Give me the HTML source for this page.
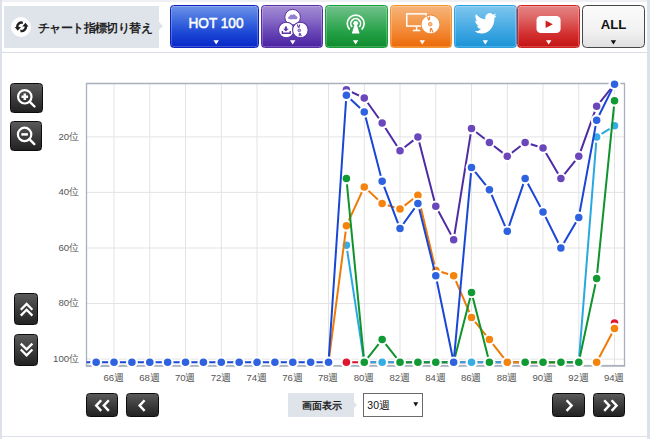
<!DOCTYPE html>
<html><head><meta charset="utf-8">
<style>
*{margin:0;padding:0;box-sizing:border-box}
html,body{width:650px;height:439px;overflow:hidden;background:#fff;font-family:"Liberation Sans",sans-serif}
.abs{position:absolute}
#topstrip{left:0;top:0;width:650px;height:2px;background:#eef0f4}
#lstrip{left:0;top:0;width:2px;height:439px;background:#dde2ea}
#rstrip{left:647px;top:0;width:3px;height:439px;background:#dde2ea}
#bline{left:0;top:436px;width:650px;height:1px;background:#dde2ea}
#hline{left:2px;top:52px;width:645px;height:1px;background:#d9dee6}
#switch{left:4px;top:6px;width:155px;height:42px;background:#dfe3ea}
#switch .arr{position:absolute;left:155px;top:15.7px;width:0;height:0;border-top:4.3px solid transparent;border-bottom:4.3px solid transparent;border-left:4.2px solid #dfe3ea}
#switch .ic{position:absolute;left:6.5px;top:11px;width:20px;height:20px;border-radius:50%;background:#fff}
#switch .tx{position:absolute;left:34px;top:14.6px;font-size:11.5px;font-weight:bold;color:#222;white-space:nowrap;letter-spacing:-0.6px}
.btn{position:absolute;top:5.1px;height:43.2px;border-radius:3.5px;overflow:hidden;box-shadow:inset 0 0 0 1px rgba(255,255,255,0.22)}
#hot{left:169.8px;width:88.9px;background:linear-gradient(#6e92e8,#4470e0 30%,#1d48d6 65%,#0828c8);border:1px solid #1020c0}
#pur{left:260.5px;width:62.8px;background:linear-gradient(#a48cd4,#8a6ec8 30%,#6644b4 65%,#4a22a2);border:1px solid #5530a8}
#grn{left:325px;width:62.8px;background:linear-gradient(#72c28c,#4db26a 30%,#23a046 65%,#0e8c2c);border:1px solid #15a038}
#org{left:389.65px;width:62.35px;background:linear-gradient(#f6b47c,#f4a058 30%,#f28632 65%,#ec6a06);border:1px solid #f2962c}
#tw{left:453.6px;width:63.1px;background:linear-gradient(#7ec6ee,#5fb6e8 30%,#3aa4e0 65%,#1b94d6);border:1px solid #2aa2e2}
#yt{left:517.3px;width:63.2px;background:linear-gradient(#e48484,#de6464 30%,#d43434 65%,#c41212);border:1px solid #d22222}
#all{left:582.2px;width:62.6px;background:linear-gradient(#fbfbfb,#f2f2f2 60%,#e0e0e0);border:1.7px solid #474747;border-radius:4.5px;box-shadow:none}
.dbtn{position:absolute;border-radius:3.5px;border:1px solid #0c0c0c;background:linear-gradient(#5a5a5a,#3c3c3c 50%,#222)}
.xl{position:absolute;top:372px;width:40px;text-align:center;font-size:11px;color:#555;white-space:nowrap}
.yl{position:absolute;left:41.5px;width:39px;text-align:right;font-size:11px;color:#555;white-space:nowrap}
#lbl{left:288px;top:393px;width:66px;height:24.3px;background:#dfe3ea;font-size:9.6px;font-weight:bold;color:#222;text-align:center;line-height:25px;padding-left:1px}
#lbl .arr{position:absolute;left:66px;top:9.4px;width:0;height:0;border-top:3.2px solid transparent;border-bottom:3.2px solid transparent;border-left:3.5px solid #dfe3ea}
#sel{left:363.3px;top:393.2px;width:59.5px;height:24px;border:1px solid #6a6a6a;background:#fff;font-size:11px;color:#111;line-height:22px;padding-left:3px}
.d{font-size:10px}
#sel .dd{position:absolute;right:4px;top:0;font-size:8px}
</style></head><body>
<div class="abs" id="topstrip"></div>
<div class="abs" id="lstrip"></div>
<div class="abs" id="rstrip"></div>
<div class="abs" id="bline"></div>
<div class="abs" id="hline"></div>

<div class="abs" id="switch">
  <div class="arr"></div>
  <div class="ic"><svg width="20" height="20" viewBox="0 0 20 20"><g fill="#222" transform="translate(10.6 9.8) scale(1.1) translate(-10 -10)"><path d="M11.04 5.11 A5.1 5.1 0 0 0 4.90 10.20 L3.7 10.2 L6.55 13.6 L9.4 10.2 L7.20 10.20 A2.8 2.8 0 0 1 11.14 7.44 Z"/><path d="M11.04 5.11 A5.1 5.1 0 0 0 4.90 10.20 L3.7 10.2 L6.55 13.6 L9.4 10.2 L7.20 10.20 A2.8 2.8 0 0 1 11.14 7.44 Z" transform="rotate(180 10 10)"/></g></svg></div>
  <div class="tx">チャート指標切り替え</div>
</div>

<div class="btn" id="hot"></div>
<div class="btn" id="pur"></div>
<div class="btn" id="grn"></div>
<div class="btn" id="org"></div>
<div class="btn" id="tw"></div>
<div class="btn" id="yt"></div>
<div class="btn" id="all"></div>
<svg class="abs" style="left:0;top:0" width="650" height="52" viewBox="0 0 650 52">
 <defs><filter id="sh" x="-50%" y="-50%" width="200%" height="200%"><feGaussianBlur stdDeviation="0.6"/></filter></defs>
 <text x="216" y="28.3" text-anchor="middle" font-family="Liberation Sans" font-size="15.4" fill="#fff" stroke="#fff" stroke-width="0.55" textLength="55" lengthAdjust="spacingAndGlyphs">HOT 100</text>
 <g>
  <circle cx="292.6" cy="17.2" r="7.8" fill="#fff" stroke="#5a33a6" stroke-width="1"/>
  <path d="M289.6 19.3 h6.2 a1.6 1.6 0 0 0 0.2-3.2 a2.2 2.2 0 0 0-3.7-1.2 a1.7 1.7 0 0 0-2.7 1.4 a1.5 1.5 0 0 0 0 3z" fill="#9580cf"/>
  <circle cx="286.3" cy="30" r="7.8" fill="#fff" stroke="#5a33a6" stroke-width="1.1"/>
  <path d="M284.9 26.4 h2 v2.4 h1.8 l-2.8 2.8 l-2.8-2.8 h1.8z" fill="#5a33a6"/>
  <path d="M282.4 31 v2.2 h7.8 v-2.2" fill="none" stroke="#5a33a6" stroke-width="1.4"/>
  <circle cx="300.35" cy="30" r="7.8" fill="#fff" stroke="#5a33a6" stroke-width="1.1"/>
  <path d="M297.3 24.5 L298.5 27.7 M299.7 24.5 L299 27.7 M299.4 33.1 L299.2 36.3 M300 33.1 L301.3 36.3" stroke="#5f3fae" stroke-width="1.1"/><circle cx="299.3" cy="30.4" r="1.4" fill="#b3a0dc" stroke="#6b4bb5" stroke-width="0.8"/>
 </g>
 <g fill="none" stroke="#fff" stroke-width="1.65">
  <path d="M349.73 29.57 A8.45 8.45 0 1 1 361.67 29.57"/>
  <path d="M352.12 26.94 A4.9 4.9 0 1 1 359.28 26.94"/>
 </g>
 <circle cx="355.7" cy="23.3" r="2.4" fill="#fff"/>
 <path d="M354.6 24.5 L356.8 24.5 L359.6 33.4 L351.8 33.4 Z" fill="#fff"/>
 <g>
  <rect x="406.75" y="13.85" width="19.5" height="12.2" fill="none" stroke="#fff" stroke-width="1.5"/>
  <path d="M416.6 26.5 v3.6 M412.8 30.6 h7.4" stroke="#fff" stroke-width="1.5"/>
  <circle cx="430.5" cy="24.4" r="9.8" fill="#f08c3c"/>
  <circle cx="430.5" cy="24.4" r="8.9" fill="#fff"/>
  <circle cx="430.2" cy="24.2" r="1.8" fill="#f7c59a" stroke="#f08c3c" stroke-width="0.9"/>
  <path d="M427.4 16.6 L428.7 20.3 M429.7 16.6 L429.3 20.3 M430.5 28 L430.3 32.2 M431.2 28 L432.9 32.2" stroke="#ef8a3a" stroke-width="1.2"/>
 </g>
 <svg x="474.5" y="10.8" width="22.1" height="25.1" viewBox="0 0 24 24" preserveAspectRatio="none"><path fill="#fff" d="M23.953 4.57a10 10 0 01-2.825.775 4.958 4.958 0 002.163-2.723c-.951.555-2.005.959-3.127 1.184a4.92 4.92 0 00-8.384 4.482C7.690 8.095 4.067 6.130 1.640 3.162a4.822 4.822 0 00-.666 2.475c0 1.710.870 3.213 2.188 4.096a4.904 4.904 0 01-2.228-.616v.060a4.923 4.923 0 003.946 4.827 4.996 4.996 0 01-2.212.085 4.936 4.936 0 004.604 3.417 9.867 9.867 0 01-6.102 2.105c-.390 0-.779-.023-1.170-.067a13.995 13.995 0 007.557 2.209c9.053 0 13.998-7.496 13.998-13.985 0-.210 0-.420-.015-.630A9.935 9.935 0 0024 4.590z"/></svg>
 <rect x="536.5" y="16" width="24.1" height="17.1" rx="4.2" fill="#fff"/>
 <path d="M545.6 20.5 L552.8 24.3 L545.6 28.1 Z" fill="#d01c1c"/>
 <text x="613.5" y="29.4" text-anchor="middle" font-family="Liberation Sans" font-size="13.2" font-weight="bold" fill="#111" stroke="#fff" stroke-width="0" >ALL</text>
 <g fill="#fff">
  <path d="M213.5 40.2 h5.4 l-2.7 4.4z"/>
  <path d="M290 40.2 h5.4 l-2.7 4.4z"/>
  <path d="M352.9 40.2 h5.4 l-2.7 4.4z"/>
  <path d="M419.6 40.2 h5.4 l-2.7 4.4z"/>
  <path d="M482.6 40.2 h5.4 l-2.7 4.4z"/>
  <path d="M546 40.2 h5.4 l-2.7 4.4z"/>
 </g>
 <path d="M610.7 40.2 h5.4 l-2.7 4.4z" fill="#111"/>
</svg>

<!-- left controls -->
<div class="dbtn" style="left:10px;top:83px;width:32.5px;height:30.3px">
 <svg class="abs" style="left:-1px;top:-1px" width="33" height="31" viewBox="0 0 33 31"><circle cx="14.8" cy="13.8" r="6.7" fill="none" stroke="#fff" stroke-width="2.2"/><path d="M19.6 18.6 L24.5 23.5" stroke="#fff" stroke-width="2.4" stroke-linecap="round"/><path d="M11.5 13.8h6.6M14.8 10.5v6.6" stroke="#fff" stroke-width="2.5"/></svg></div>
<div class="dbtn" style="left:10px;top:121px;width:32px;height:29.7px">
 <svg class="abs" style="left:-1px;top:-1px" width="33" height="31" viewBox="0 0 33 31"><circle cx="14.6" cy="13.4" r="6.7" fill="none" stroke="#fff" stroke-width="2.2"/><path d="M19.4 18.2 L24.3 23.1" stroke="#fff" stroke-width="2.4" stroke-linecap="round"/><path d="M11.3 13.4h6.6" stroke="#fff" stroke-width="2.5"/></svg></div>
<div class="dbtn" style="left:13.7px;top:293.2px;width:24.2px;height:31.8px">
 <svg class="abs" style="left:-1px;top:-1px" width="25" height="33" viewBox="0 0 25 33"><path d="M6.8 16.7 L12.6 10.9 L18.4 16.7 M6.8 22.6 L12.6 16.8 L18.4 22.6" fill="none" stroke="#fff" stroke-width="2.3"/></svg></div>
<div class="dbtn" style="left:13.7px;top:333.5px;width:24.2px;height:32px">
 <svg class="abs" style="left:-1px;top:-1px" width="25" height="33" viewBox="0 0 25 33"><path d="M6.8 9.6 L12.6 15.4 L18.4 9.6 M6.8 15.5 L12.6 21.3 L18.4 15.5" fill="none" stroke="#fff" stroke-width="2.3"/></svg></div>

<!-- chart -->
<svg class="abs" style="left:0;top:0" width="650" height="439" viewBox="0 0 650 439">
<line x1="87" y1="136.9" x2="624" y2="136.9" stroke="#e3e3e3" stroke-width="1"/>
<line x1="87" y1="192.4" x2="624" y2="192.4" stroke="#e3e3e3" stroke-width="1"/>
<line x1="87" y1="248.0" x2="624" y2="248.0" stroke="#e3e3e3" stroke-width="1"/>
<line x1="87" y1="303.5" x2="624" y2="303.5" stroke="#e3e3e3" stroke-width="1"/>
<line x1="87" y1="359.1" x2="624" y2="359.1" stroke="#e3e3e3" stroke-width="1"/>
<line x1="114.0" y1="84" x2="114.0" y2="365" stroke="#e3e3e3" stroke-width="1"/>
<line x1="149.8" y1="84" x2="149.8" y2="365" stroke="#e3e3e3" stroke-width="1"/>
<line x1="185.5" y1="84" x2="185.5" y2="365" stroke="#e3e3e3" stroke-width="1"/>
<line x1="221.3" y1="84" x2="221.3" y2="365" stroke="#e3e3e3" stroke-width="1"/>
<line x1="257.0" y1="84" x2="257.0" y2="365" stroke="#e3e3e3" stroke-width="1"/>
<line x1="292.8" y1="84" x2="292.8" y2="365" stroke="#e3e3e3" stroke-width="1"/>
<line x1="328.5" y1="84" x2="328.5" y2="365" stroke="#e3e3e3" stroke-width="1"/>
<line x1="364.3" y1="84" x2="364.3" y2="365" stroke="#e3e3e3" stroke-width="1"/>
<line x1="400.0" y1="84" x2="400.0" y2="365" stroke="#e3e3e3" stroke-width="1"/>
<line x1="435.8" y1="84" x2="435.8" y2="365" stroke="#e3e3e3" stroke-width="1"/>
<line x1="471.5" y1="84" x2="471.5" y2="365" stroke="#e3e3e3" stroke-width="1"/>
<line x1="507.3" y1="84" x2="507.3" y2="365" stroke="#e3e3e3" stroke-width="1"/>
<line x1="543.0" y1="84" x2="543.0" y2="365" stroke="#e3e3e3" stroke-width="1"/>
<line x1="578.8" y1="84" x2="578.8" y2="365" stroke="#e3e3e3" stroke-width="1"/>
<line x1="614.5" y1="84" x2="614.5" y2="365" stroke="#e3e3e3" stroke-width="1"/>
<path d="M86.5 366 V83.5 H624.5 V366" fill="none" stroke="#a8b0bd" stroke-width="1.3"/><rect x="85.85" y="364.9" width="39.3" height="1.9" fill="#abb3bf"/><rect x="85.85" y="364.9" width="539.3" height="1.9" fill="#abb3bf"/>
<defs><clipPath id="pc"><rect x="86.5" y="0" width="538.5" height="439"/></clipPath></defs><g clip-path="url(#pc)">
<path d="M346.40 362.30 L364.27 362.30 L382.15 362.30 L400.02 362.30 L417.90 362.30 L435.77 362.30 L453.65 362.30 L471.52 362.30 L489.40 362.30 L507.27 362.30 L525.15 362.30 L543.02 362.30 L560.90 362.30 L578.77 362.30" fill="none" stroke="#d9102a" stroke-width="2" stroke-linejoin="round"/>
<circle cx="346.40" cy="362.30" r="5.9" fill="#fff"/><circle cx="346.40" cy="362.30" r="3.75" fill="#e0152e"/>
<circle cx="364.27" cy="362.30" r="5.9" fill="#fff"/><circle cx="364.27" cy="362.30" r="3.75" fill="#e0152e"/>
<circle cx="382.15" cy="362.30" r="5.9" fill="#fff"/><circle cx="382.15" cy="362.30" r="3.75" fill="#e0152e"/>
<circle cx="400.02" cy="362.30" r="5.9" fill="#fff"/><circle cx="400.02" cy="362.30" r="3.75" fill="#e0152e"/>
<circle cx="417.90" cy="362.30" r="5.9" fill="#fff"/><circle cx="417.90" cy="362.30" r="3.75" fill="#e0152e"/>
<circle cx="435.77" cy="362.30" r="5.9" fill="#fff"/><circle cx="435.77" cy="362.30" r="3.75" fill="#e0152e"/>
<circle cx="453.65" cy="362.30" r="5.9" fill="#fff"/><circle cx="453.65" cy="362.30" r="3.75" fill="#e0152e"/>
<circle cx="471.52" cy="362.30" r="5.9" fill="#fff"/><circle cx="471.52" cy="362.30" r="3.75" fill="#e0152e"/>
<circle cx="489.40" cy="362.30" r="5.9" fill="#fff"/><circle cx="489.40" cy="362.30" r="3.75" fill="#e0152e"/>
<circle cx="507.27" cy="362.30" r="5.9" fill="#fff"/><circle cx="507.27" cy="362.30" r="3.75" fill="#e0152e"/>
<circle cx="525.15" cy="362.30" r="5.9" fill="#fff"/><circle cx="525.15" cy="362.30" r="3.75" fill="#e0152e"/>
<circle cx="543.02" cy="362.30" r="5.9" fill="#fff"/><circle cx="543.02" cy="362.30" r="3.75" fill="#e0152e"/>
<circle cx="560.90" cy="362.30" r="5.9" fill="#fff"/><circle cx="560.90" cy="362.30" r="3.75" fill="#e0152e"/>
<circle cx="578.77" cy="362.30" r="5.9" fill="#fff"/><circle cx="578.77" cy="362.30" r="3.75" fill="#e0152e"/>
<circle cx="614.52" cy="322.96" r="5.9" fill="#fff"/><circle cx="614.52" cy="322.96" r="3.75" fill="#e0152e"/>
<path d="M346.40 245.20 L364.27 362.30 L382.15 362.30 L400.02 362.30 L417.90 362.30 L435.77 362.30 L453.65 362.30 L471.52 362.30 L489.40 362.30 L507.27 362.30 L525.15 362.30 L543.02 362.30 L560.90 362.30 L578.77 362.30 L596.65 136.90 L614.52 125.79" fill="none" stroke="#2aa8e0" stroke-width="2" stroke-linejoin="round"/>
<circle cx="346.40" cy="245.20" r="5.9" fill="#fff"/><circle cx="346.40" cy="245.20" r="3.75" fill="#35ade3"/>
<circle cx="364.27" cy="362.30" r="5.9" fill="#fff"/><circle cx="364.27" cy="362.30" r="3.75" fill="#35ade3"/>
<circle cx="382.15" cy="362.30" r="5.9" fill="#fff"/><circle cx="382.15" cy="362.30" r="3.75" fill="#35ade3"/>
<circle cx="400.02" cy="362.30" r="5.9" fill="#fff"/><circle cx="400.02" cy="362.30" r="3.75" fill="#35ade3"/>
<circle cx="417.90" cy="362.30" r="5.9" fill="#fff"/><circle cx="417.90" cy="362.30" r="3.75" fill="#35ade3"/>
<circle cx="435.77" cy="362.30" r="5.9" fill="#fff"/><circle cx="435.77" cy="362.30" r="3.75" fill="#35ade3"/>
<circle cx="453.65" cy="362.30" r="5.9" fill="#fff"/><circle cx="453.65" cy="362.30" r="3.75" fill="#35ade3"/>
<circle cx="471.52" cy="362.30" r="5.9" fill="#fff"/><circle cx="471.52" cy="362.30" r="3.75" fill="#35ade3"/>
<circle cx="489.40" cy="362.30" r="5.9" fill="#fff"/><circle cx="489.40" cy="362.30" r="3.75" fill="#35ade3"/>
<circle cx="507.27" cy="362.30" r="5.9" fill="#fff"/><circle cx="507.27" cy="362.30" r="3.75" fill="#35ade3"/>
<circle cx="525.15" cy="362.30" r="5.9" fill="#fff"/><circle cx="525.15" cy="362.30" r="3.75" fill="#35ade3"/>
<circle cx="543.02" cy="362.30" r="5.9" fill="#fff"/><circle cx="543.02" cy="362.30" r="3.75" fill="#35ade3"/>
<circle cx="560.90" cy="362.30" r="5.9" fill="#fff"/><circle cx="560.90" cy="362.30" r="3.75" fill="#35ade3"/>
<circle cx="578.77" cy="362.30" r="5.9" fill="#fff"/><circle cx="578.77" cy="362.30" r="3.75" fill="#35ade3"/>
<circle cx="596.65" cy="136.90" r="5.9" fill="#fff"/><circle cx="596.65" cy="136.90" r="3.75" fill="#35ade3"/>
<circle cx="614.52" cy="125.79" r="5.9" fill="#fff"/><circle cx="614.52" cy="125.79" r="3.75" fill="#35ade3"/>
<path d="M328.52 362.30 L346.40 225.76 L364.27 186.89 L382.15 203.55 L400.02 209.10 L417.90 195.22 L435.77 270.20 L453.65 275.75 L471.52 317.41 L489.40 339.62 L507.27 362.30 L525.15 362.30 L543.02 362.30 L560.90 362.30" fill="none" stroke="#f07a08" stroke-width="2" stroke-linejoin="round"/>
<path d="M596.65 362.30 L614.52 328.51" fill="none" stroke="#f07a08" stroke-width="2" stroke-linejoin="round"/>
<circle cx="328.52" cy="362.30" r="5.9" fill="#fff"/><circle cx="328.52" cy="362.30" r="3.75" fill="#f5840e"/>
<circle cx="346.40" cy="225.76" r="5.9" fill="#fff"/><circle cx="346.40" cy="225.76" r="3.75" fill="#f5840e"/>
<circle cx="364.27" cy="186.89" r="5.9" fill="#fff"/><circle cx="364.27" cy="186.89" r="3.75" fill="#f5840e"/>
<circle cx="382.15" cy="203.55" r="5.9" fill="#fff"/><circle cx="382.15" cy="203.55" r="3.75" fill="#f5840e"/>
<circle cx="400.02" cy="209.10" r="5.9" fill="#fff"/><circle cx="400.02" cy="209.10" r="3.75" fill="#f5840e"/>
<circle cx="417.90" cy="195.22" r="5.9" fill="#fff"/><circle cx="417.90" cy="195.22" r="3.75" fill="#f5840e"/>
<circle cx="435.77" cy="270.20" r="5.9" fill="#fff"/><circle cx="435.77" cy="270.20" r="3.75" fill="#f5840e"/>
<circle cx="453.65" cy="275.75" r="5.9" fill="#fff"/><circle cx="453.65" cy="275.75" r="3.75" fill="#f5840e"/>
<circle cx="471.52" cy="317.41" r="5.9" fill="#fff"/><circle cx="471.52" cy="317.41" r="3.75" fill="#f5840e"/>
<circle cx="489.40" cy="339.62" r="5.9" fill="#fff"/><circle cx="489.40" cy="339.62" r="3.75" fill="#f5840e"/>
<circle cx="507.27" cy="362.30" r="5.9" fill="#fff"/><circle cx="507.27" cy="362.30" r="3.75" fill="#f5840e"/>
<circle cx="525.15" cy="362.30" r="5.9" fill="#fff"/><circle cx="525.15" cy="362.30" r="3.75" fill="#f5840e"/>
<circle cx="543.02" cy="362.30" r="5.9" fill="#fff"/><circle cx="543.02" cy="362.30" r="3.75" fill="#f5840e"/>
<circle cx="560.90" cy="362.30" r="5.9" fill="#fff"/><circle cx="560.90" cy="362.30" r="3.75" fill="#f5840e"/>
<circle cx="596.65" cy="362.30" r="5.9" fill="#fff"/><circle cx="596.65" cy="362.30" r="3.75" fill="#f5840e"/>
<circle cx="614.52" cy="328.51" r="5.9" fill="#fff"/><circle cx="614.52" cy="328.51" r="3.75" fill="#f5840e"/>
<path d="M346.40 178.56 L364.27 362.30 L382.15 339.62 L400.02 362.30 L417.90 362.30 L435.77 362.30 L453.65 362.30 L471.52 292.41 L489.40 362.30" fill="none" stroke="#0f942c" stroke-width="2" stroke-linejoin="round"/>
<path d="M525.15 362.30 L543.02 362.30 L560.90 362.30 L578.77 362.30 L596.65 278.53 L614.52 100.80" fill="none" stroke="#0f942c" stroke-width="2" stroke-linejoin="round"/>
<circle cx="346.40" cy="178.56" r="5.9" fill="#fff"/><circle cx="346.40" cy="178.56" r="3.75" fill="#109a34"/>
<circle cx="364.27" cy="362.30" r="5.9" fill="#fff"/><circle cx="364.27" cy="362.30" r="3.75" fill="#109a34"/>
<circle cx="382.15" cy="339.62" r="5.9" fill="#fff"/><circle cx="382.15" cy="339.62" r="3.75" fill="#109a34"/>
<circle cx="400.02" cy="362.30" r="5.9" fill="#fff"/><circle cx="400.02" cy="362.30" r="3.75" fill="#109a34"/>
<circle cx="417.90" cy="362.30" r="5.9" fill="#fff"/><circle cx="417.90" cy="362.30" r="3.75" fill="#109a34"/>
<circle cx="435.77" cy="362.30" r="5.9" fill="#fff"/><circle cx="435.77" cy="362.30" r="3.75" fill="#109a34"/>
<circle cx="453.65" cy="362.30" r="5.9" fill="#fff"/><circle cx="453.65" cy="362.30" r="3.75" fill="#109a34"/>
<circle cx="471.52" cy="292.41" r="5.9" fill="#fff"/><circle cx="471.52" cy="292.41" r="3.75" fill="#109a34"/>
<circle cx="489.40" cy="362.30" r="5.9" fill="#fff"/><circle cx="489.40" cy="362.30" r="3.75" fill="#109a34"/>
<circle cx="525.15" cy="362.30" r="5.9" fill="#fff"/><circle cx="525.15" cy="362.30" r="3.75" fill="#109a34"/>
<circle cx="543.02" cy="362.30" r="5.9" fill="#fff"/><circle cx="543.02" cy="362.30" r="3.75" fill="#109a34"/>
<circle cx="560.90" cy="362.30" r="5.9" fill="#fff"/><circle cx="560.90" cy="362.30" r="3.75" fill="#109a34"/>
<circle cx="578.77" cy="362.30" r="5.9" fill="#fff"/><circle cx="578.77" cy="362.30" r="3.75" fill="#109a34"/>
<circle cx="596.65" cy="278.53" r="5.9" fill="#fff"/><circle cx="596.65" cy="278.53" r="3.75" fill="#109a34"/>
<circle cx="614.52" cy="100.80" r="5.9" fill="#fff"/><circle cx="614.52" cy="100.80" r="3.75" fill="#109a34"/>
<path d="M346.40 89.69 L364.27 98.02 L382.15 123.02 L400.02 150.78 L417.90 136.90 L435.77 206.32 L453.65 239.65 L471.52 128.57 L489.40 142.45 L507.27 156.34 L525.15 142.45 L543.02 148.01 L560.90 178.56 L578.77 156.34 L596.65 106.35 L614.52 84.14" fill="none" stroke="#4e2ca6" stroke-width="2" stroke-linejoin="round"/>
<circle cx="346.40" cy="89.69" r="5.9" fill="#fff"/><circle cx="346.40" cy="89.69" r="3.75" fill="#6a48bb"/>
<circle cx="364.27" cy="98.02" r="5.9" fill="#fff"/><circle cx="364.27" cy="98.02" r="3.75" fill="#6a48bb"/>
<circle cx="382.15" cy="123.02" r="5.9" fill="#fff"/><circle cx="382.15" cy="123.02" r="3.75" fill="#6a48bb"/>
<circle cx="400.02" cy="150.78" r="5.9" fill="#fff"/><circle cx="400.02" cy="150.78" r="3.75" fill="#6a48bb"/>
<circle cx="417.90" cy="136.90" r="5.9" fill="#fff"/><circle cx="417.90" cy="136.90" r="3.75" fill="#6a48bb"/>
<circle cx="435.77" cy="206.32" r="5.9" fill="#fff"/><circle cx="435.77" cy="206.32" r="3.75" fill="#6a48bb"/>
<circle cx="453.65" cy="239.65" r="5.9" fill="#fff"/><circle cx="453.65" cy="239.65" r="3.75" fill="#6a48bb"/>
<circle cx="471.52" cy="128.57" r="5.9" fill="#fff"/><circle cx="471.52" cy="128.57" r="3.75" fill="#6a48bb"/>
<circle cx="489.40" cy="142.45" r="5.9" fill="#fff"/><circle cx="489.40" cy="142.45" r="3.75" fill="#6a48bb"/>
<circle cx="507.27" cy="156.34" r="5.9" fill="#fff"/><circle cx="507.27" cy="156.34" r="3.75" fill="#6a48bb"/>
<circle cx="525.15" cy="142.45" r="5.9" fill="#fff"/><circle cx="525.15" cy="142.45" r="3.75" fill="#6a48bb"/>
<circle cx="543.02" cy="148.01" r="5.9" fill="#fff"/><circle cx="543.02" cy="148.01" r="3.75" fill="#6a48bb"/>
<circle cx="560.90" cy="178.56" r="5.9" fill="#fff"/><circle cx="560.90" cy="178.56" r="3.75" fill="#6a48bb"/>
<circle cx="578.77" cy="156.34" r="5.9" fill="#fff"/><circle cx="578.77" cy="156.34" r="3.75" fill="#6a48bb"/>
<circle cx="596.65" cy="106.35" r="5.9" fill="#fff"/><circle cx="596.65" cy="106.35" r="3.75" fill="#6a48bb"/>
<circle cx="614.52" cy="84.14" r="5.9" fill="#fff"/><circle cx="614.52" cy="84.14" r="3.75" fill="#6a48bb"/>
<path d="M78.28 362.30 L96.15 362.30 L114.03 362.30 L131.90 362.30 L149.78 362.30 L167.65 362.30 L185.53 362.30 L203.40 362.30 L221.28 362.30 L239.15 362.30 L257.02 362.30 L274.90 362.30 L292.77 362.30 L310.65 362.30 L328.52 362.30 L346.40 95.25 L364.27 111.91 L382.15 181.33 L400.02 228.54 L417.90 203.55 L435.77 275.75 L453.65 362.30 L471.52 167.45 L489.40 189.66 L507.27 231.32 L525.15 178.56 L543.02 211.88 L560.90 247.98 L578.77 217.43 L596.65 120.24 L614.52 84.14" fill="none" stroke="#1a46d6" stroke-width="2" stroke-linejoin="round"/>
<circle cx="96.15" cy="362.30" r="5.9" fill="#fff"/><circle cx="96.15" cy="362.30" r="3.75" fill="#2f62e0"/>
<circle cx="114.03" cy="362.30" r="5.9" fill="#fff"/><circle cx="114.03" cy="362.30" r="3.75" fill="#2f62e0"/>
<circle cx="131.90" cy="362.30" r="5.9" fill="#fff"/><circle cx="131.90" cy="362.30" r="3.75" fill="#2f62e0"/>
<circle cx="149.78" cy="362.30" r="5.9" fill="#fff"/><circle cx="149.78" cy="362.30" r="3.75" fill="#2f62e0"/>
<circle cx="167.65" cy="362.30" r="5.9" fill="#fff"/><circle cx="167.65" cy="362.30" r="3.75" fill="#2f62e0"/>
<circle cx="185.53" cy="362.30" r="5.9" fill="#fff"/><circle cx="185.53" cy="362.30" r="3.75" fill="#2f62e0"/>
<circle cx="203.40" cy="362.30" r="5.9" fill="#fff"/><circle cx="203.40" cy="362.30" r="3.75" fill="#2f62e0"/>
<circle cx="221.28" cy="362.30" r="5.9" fill="#fff"/><circle cx="221.28" cy="362.30" r="3.75" fill="#2f62e0"/>
<circle cx="239.15" cy="362.30" r="5.9" fill="#fff"/><circle cx="239.15" cy="362.30" r="3.75" fill="#2f62e0"/>
<circle cx="257.02" cy="362.30" r="5.9" fill="#fff"/><circle cx="257.02" cy="362.30" r="3.75" fill="#2f62e0"/>
<circle cx="274.90" cy="362.30" r="5.9" fill="#fff"/><circle cx="274.90" cy="362.30" r="3.75" fill="#2f62e0"/>
<circle cx="292.77" cy="362.30" r="5.9" fill="#fff"/><circle cx="292.77" cy="362.30" r="3.75" fill="#2f62e0"/>
<circle cx="310.65" cy="362.30" r="5.9" fill="#fff"/><circle cx="310.65" cy="362.30" r="3.75" fill="#2f62e0"/>
<circle cx="328.52" cy="362.30" r="5.9" fill="#fff"/><circle cx="328.52" cy="362.30" r="3.75" fill="#2f62e0"/>
<circle cx="346.40" cy="95.25" r="5.9" fill="#fff"/><circle cx="346.40" cy="95.25" r="3.75" fill="#2f62e0"/>
<circle cx="364.27" cy="111.91" r="5.9" fill="#fff"/><circle cx="364.27" cy="111.91" r="3.75" fill="#2f62e0"/>
<circle cx="382.15" cy="181.33" r="5.9" fill="#fff"/><circle cx="382.15" cy="181.33" r="3.75" fill="#2f62e0"/>
<circle cx="400.02" cy="228.54" r="5.9" fill="#fff"/><circle cx="400.02" cy="228.54" r="3.75" fill="#2f62e0"/>
<circle cx="417.90" cy="203.55" r="5.9" fill="#fff"/><circle cx="417.90" cy="203.55" r="3.75" fill="#2f62e0"/>
<circle cx="435.77" cy="275.75" r="5.9" fill="#fff"/><circle cx="435.77" cy="275.75" r="3.75" fill="#2f62e0"/>
<circle cx="453.65" cy="362.30" r="5.9" fill="#fff"/><circle cx="453.65" cy="362.30" r="3.75" fill="#2f62e0"/>
<circle cx="471.52" cy="167.45" r="5.9" fill="#fff"/><circle cx="471.52" cy="167.45" r="3.75" fill="#2f62e0"/>
<circle cx="489.40" cy="189.66" r="5.9" fill="#fff"/><circle cx="489.40" cy="189.66" r="3.75" fill="#2f62e0"/>
<circle cx="507.27" cy="231.32" r="5.9" fill="#fff"/><circle cx="507.27" cy="231.32" r="3.75" fill="#2f62e0"/>
<circle cx="525.15" cy="178.56" r="5.9" fill="#fff"/><circle cx="525.15" cy="178.56" r="3.75" fill="#2f62e0"/>
<circle cx="543.02" cy="211.88" r="5.9" fill="#fff"/><circle cx="543.02" cy="211.88" r="3.75" fill="#2f62e0"/>
<circle cx="560.90" cy="247.98" r="5.9" fill="#fff"/><circle cx="560.90" cy="247.98" r="3.75" fill="#2f62e0"/>
<circle cx="578.77" cy="217.43" r="5.9" fill="#fff"/><circle cx="578.77" cy="217.43" r="3.75" fill="#2f62e0"/>
<circle cx="596.65" cy="120.24" r="5.9" fill="#fff"/><circle cx="596.65" cy="120.24" r="3.75" fill="#2f62e0"/>
<circle cx="614.52" cy="84.14" r="5.9" fill="#fff"/><circle cx="614.52" cy="84.14" r="3.75" fill="#2f62e0"/>
</g>
</svg>
<svg class="abs" style="left:0;top:0" width="650" height="439" viewBox="0 0 650 439"><g font-family="Liberation Sans" fill="#555">
<text x="113.62" y="380.8" text-anchor="middle"><tspan font-size="9.6">66</tspan><tspan font-size="10" dx="-0.3">週</tspan></text>
<text x="149.38" y="380.8" text-anchor="middle"><tspan font-size="9.6">68</tspan><tspan font-size="10" dx="-0.3">週</tspan></text>
<text x="185.12" y="380.8" text-anchor="middle"><tspan font-size="9.6">70</tspan><tspan font-size="10" dx="-0.3">週</tspan></text>
<text x="220.88" y="380.8" text-anchor="middle"><tspan font-size="9.6">72</tspan><tspan font-size="10" dx="-0.3">週</tspan></text>
<text x="256.62" y="380.8" text-anchor="middle"><tspan font-size="9.6">74</tspan><tspan font-size="10" dx="-0.3">週</tspan></text>
<text x="292.38" y="380.8" text-anchor="middle"><tspan font-size="9.6">76</tspan><tspan font-size="10" dx="-0.3">週</tspan></text>
<text x="328.12" y="380.8" text-anchor="middle"><tspan font-size="9.6">78</tspan><tspan font-size="10" dx="-0.3">週</tspan></text>
<text x="363.88" y="380.8" text-anchor="middle"><tspan font-size="9.6">80</tspan><tspan font-size="10" dx="-0.3">週</tspan></text>
<text x="399.62" y="380.8" text-anchor="middle"><tspan font-size="9.6">82</tspan><tspan font-size="10" dx="-0.3">週</tspan></text>
<text x="435.38" y="380.8" text-anchor="middle"><tspan font-size="9.6">84</tspan><tspan font-size="10" dx="-0.3">週</tspan></text>
<text x="471.12" y="380.8" text-anchor="middle"><tspan font-size="9.6">86</tspan><tspan font-size="10" dx="-0.3">週</tspan></text>
<text x="506.88" y="380.8" text-anchor="middle"><tspan font-size="9.6">88</tspan><tspan font-size="10" dx="-0.3">週</tspan></text>
<text x="542.62" y="380.8" text-anchor="middle"><tspan font-size="9.6">90</tspan><tspan font-size="10" dx="-0.3">週</tspan></text>
<text x="578.38" y="380.8" text-anchor="middle"><tspan font-size="9.6">92</tspan><tspan font-size="10" dx="-0.3">週</tspan></text>
<text x="614.12" y="380.8" text-anchor="middle"><tspan font-size="9.6">94</tspan><tspan font-size="10" dx="-0.3">週</tspan></text>
<text x="78.8" y="139.70" text-anchor="end"><tspan font-size="9.6">20</tspan><tspan font-size="10" dx="-0.3">位</tspan></text>
<text x="78.8" y="195.24" text-anchor="end"><tspan font-size="9.6">40</tspan><tspan font-size="10" dx="-0.3">位</tspan></text>
<text x="78.8" y="250.78" text-anchor="end"><tspan font-size="9.6">60</tspan><tspan font-size="10" dx="-0.3">位</tspan></text>
<text x="78.8" y="306.32" text-anchor="end"><tspan font-size="9.6">80</tspan><tspan font-size="10" dx="-0.3">位</tspan></text>
<text x="78.8" y="361.86" text-anchor="end"><tspan font-size="9.6">100</tspan><tspan font-size="10" dx="-0.3">位</tspan></text>
</g></svg>

<!-- bottom controls -->
<div class="dbtn" style="left:85.8px;top:393px;width:32px;height:24.2px">
 <svg class="abs" style="left:-1px;top:-1px" width="33" height="25" viewBox="0 0 33 25"><path d="M15.2 7.3 L10.2 12.6 L15.2 17.9 M22.8 7.3 L17.8 12.6 L22.8 17.9" fill="none" stroke="#fff" stroke-width="2.4"/></svg></div>
<div class="dbtn" style="left:126.3px;top:393px;width:32.4px;height:24.2px">
 <svg class="abs" style="left:-1px;top:-1px" width="33" height="25" viewBox="0 0 33 25"><path d="M18.6 7.3 L13.6 12.6 L18.6 17.9" fill="none" stroke="#fff" stroke-width="2.4"/></svg></div>
<div class="dbtn" style="left:552.3px;top:393px;width:32.3px;height:24.2px">
 <svg class="abs" style="left:-1px;top:-1px" width="33" height="25" viewBox="0 0 33 25"><path d="M14.6 7.3 L19.6 12.6 L14.6 17.9" fill="none" stroke="#fff" stroke-width="2.4"/></svg></div>
<div class="dbtn" style="left:593px;top:393px;width:32.1px;height:24.2px">
 <svg class="abs" style="left:-1px;top:-1px" width="33" height="25" viewBox="0 0 33 25"><path d="M11.2 7.3 L16.2 12.6 L11.2 17.9 M18.6 7.3 L23.6 12.6 L18.6 17.9" fill="none" stroke="#fff" stroke-width="2.4"/></svg></div>

<div class="abs" id="lbl">画面表示<div class="arr"></div></div>
<div class="abs" id="sel"><span style="font-size:10.5px">30</span>週<svg class="abs" style="left:48.7px;top:8.3px" width="6" height="5" viewBox="0 0 6 5"><path d="M0.3 0.3 H5.2 L2.75 4.4Z" fill="#111"/></svg></div>
</body></html>
